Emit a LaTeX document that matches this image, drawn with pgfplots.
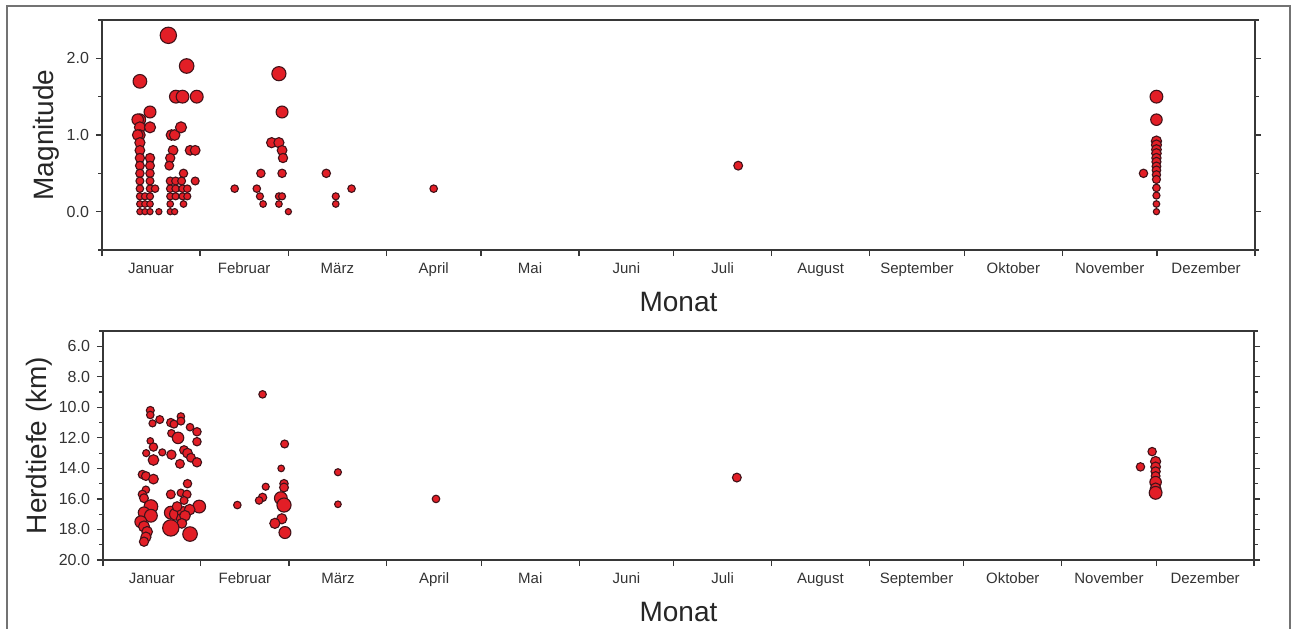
\documentclass[border=0pt]{standalone}
\usepackage{fontspec}
\setmainfont{Liberation Sans}
\usepackage{pgfplots}
\pgfplotsset{compat=1.18}
\definecolor{qred}{RGB}{226,30,38}
\definecolor{qdark}{RGB}{65,18,25}
\definecolor{axgray}{RGB}{55,55,55}
\pgfplotsset{
  quake/.style={
    scatter, only marks, mark=*,
    scatter/use mapped color={draw=qdark, fill=qred},
    mark options={line width=0.55pt},
    visualization depends on={1.55+1.1*\thisrow{m} \as \msize},
    scatter/@pre marker code/.append style={/tikz/mark size=\msize pt},
  },
  common/.style={
    scale only axis,
    xmin=0, xmax=365,
    xtick={0,31,59,90,120,151,181,212,243,273,304,334,365},
    xticklabels={Januar,Februar,März,April,Mai,Juni,Juli,August,September,Oktober,November,Dezember},
    x tick label as interval,
    xtick pos=left,
    ytick pos=both,
    yticklabel pos=left,
    tick align=outside,
    major tick length=3pt,
    minor tick length=1.8pt,
    axis line style={axgray, line width=0.6pt},
    every tick/.style={axgray, line width=0.6pt},
    /pgf/number format/assume math mode=true,
    xticklabel style={font=\fontsize{7.5}{9}\selectfont, text=black!80},
    yticklabel style={font=\fontsize{8}{9}\selectfont, text=black!80,
      /pgf/number format/fixed, /pgf/number format/fixed zerofill, /pgf/number format/precision=1},
    label style={font=\fontsize{14}{16}\selectfont, text=black!85},
    clip=false,
  },
}
\pgfplotstableread{
x m
12 1.7
12 1.2
11.3 1.2
12 1.1
12 1.0
11.3 1.0
12 0.9
12 0.8
12 0.7
12 0.6
12 0.5
12 0.4
12 0.3
12 0.2
12 0.1
12 0.0
13.6 0.2
13.6 0.1
13.6 0.0
15.2 1.3
15.2 1.1
15.2 0.7
15.2 0.6
15.2 0.5
15.2 0.4
15.2 0.3
15.2 0.2
15.2 0.1
15.2 0.0
16.8 0.3
18 0.0
21 2.3
22 1.0
23 1.0
22.5 0.8
21.6 0.7
21.3 0.6
21.6 0.4
21.6 0.3
21.6 0.2
21.6 0.1
21.6 0.0
23.3 0.4
23.3 0.3
23.3 0.2
23.0 0.0
23.4 1.5
25.5 1.5
25.0 1.1
26.8 1.9
30.0 1.5
25.8 0.5
25.2 0.4
25.5 0.3
25.5 0.2
25.8 0.1
27.0 0.3
27.0 0.2
27.9 0.8
29.5 0.8
29.5 0.4
42 0.3
49 0.3
50.3 0.5
50.0 0.2
51.0 0.1
53.7 0.9
56.0 0.9
56.0 1.8
57.0 1.3
57.0 0.8
57.3 0.7
57.0 0.5
56.0 0.2
57.0 0.2
56.0 0.1
59.0 0.0
71 0.5
74 0.2
74 0.1
79 0.3
105 0.3
201.4 0.6
329.7 0.5
333.8 1.5
333.8 1.2
333.8 0.92
333.8 0.87
333.8 0.81
333.8 0.76
333.8 0.70
333.8 0.65
333.8 0.59
333.8 0.54
333.8 0.48
333.8 0.42
333.8 0.31
333.8 0.21
333.8 0.10
333.8 0.0
}\magdata
\pgfplotstableread{
x y m
15 10.2 0.4
15 10.5 0.3
18 10.8 0.4
15.7 11.05 0.2
21.5 11.0 0.5
22.5 11.1 0.4
24.7 10.6 0.3
24.7 10.9 0.4
27.6 11.3 0.3
29.8 11.6 0.5
21.7 11.7 0.3
23.8 12.0 1.2
29.8 12.25 0.5
15 12.2 0.1
16 12.6 0.5
13.7 13.0 0.2
18.8 12.95 0.2
21.7 13.1 0.7
25.7 12.8 0.6
26.8 13.0 0.8
27.9 13.3 0.6
29.8 13.6 0.7
16 13.45 1.0
24.4 13.7 0.6
12.5 14.4 0.5
13.6 14.5 0.6
16 14.7 0.8
26.8 15.0 0.5
13.6 15.4 0.3
12.5 15.7 0.5
13 15.95 0.6
21.5 15.7 0.6
24.7 15.6 0.3
26.6 15.7 0.5
25.7 16.1 0.4
30.5 16.5 1.5
15.2 16.5 1.7
13 16.9 1.2
15.2 17.1 1.5
12 17.5 1.3
13 17.8 1.1
14 18.15 1.0
13.6 18.5 0.9
13 18.8 0.7
21.5 16.9 1.5
23 17.0 1.3
25.5 16.9 1.3
27.5 16.7 1.0
25 17.3 1.1
26 17.1 1.0
23.5 16.5 0.8
25 17.6 0.8
21.5 17.9 2.3
27.6 18.3 1.9
50.6 9.15 0.3
57.6 12.4 0.4
56.5 14.0 0.1
57.4 15.0 0.5
57.4 15.25 0.6
51.6 15.2 0.2
50.6 15.9 0.5
49.5 16.1 0.3
42.6 16.4 0.3
56.4 15.95 1.5
57.4 16.4 1.8
56.7 17.3 0.9
54.5 17.6 0.9
57.7 18.2 1.3
74.5 14.25 0.2
74.5 16.35 0.1
105.6 16.0 0.3
201 14.6 0.6
332.7 12.9 0.5
329 13.9 0.5
333.8 13.55 0.9
333.8 13.9 0.8
333.8 14.2 0.7
333.8 14.7 0.4
333.8 14.5 0.6
333.8 14.9 1.2
333.8 15.3 1.0
333.8 15.6 1.5
}\depthdata
\begin{document}
\begin{tikzpicture}
\useasboundingbox (0,0) rectangle (646pt,314pt);
\draw[black!55, line width=0.6pt] (3.5pt,-2pt) -- (3.5pt,311pt) -- (645pt,311pt) -- (645pt,-2pt);
\begin{axis}[common,
  at={(51pt,189pt)}, anchor=south west,
  width=576.5pt, height=115pt,
  ymin=-0.5, ymax=2.5,
  ytick={0,1,2},
  minor ytick={-0.5,0.5,1.5,2.5},
  xlabel={Monat}, ylabel={Magnitude},
  xlabel style={at={(axis description cs:0.5,-0.226)}, anchor=center},
  ylabel style={at={(axis description cs:-0.048,0.5)}, anchor=center},
]
\addplot[quake] table[x=x, y=m] {\magdata};
\end{axis}
\begin{axis}[common,
  at={(51.5pt,34pt)}, anchor=south west,
  width=575.5pt, height=114.5pt,
  y dir=reverse,
  ymin=5, ymax=20,
  ytick={6,8,10,12,14,16,18,20},
  minor ytick={5,7,9,11,13,15,17,19},
  xlabel={Monat}, ylabel={Herdtiefe (km)},
  xlabel style={at={(axis description cs:0.5,-0.227)}, anchor=center},
  ylabel style={at={(axis description cs:-0.055,0.5)}, anchor=center},
]
\addplot[quake] table[x=x, y=y] {\depthdata};
\end{axis}
\end{tikzpicture}
\end{document}
